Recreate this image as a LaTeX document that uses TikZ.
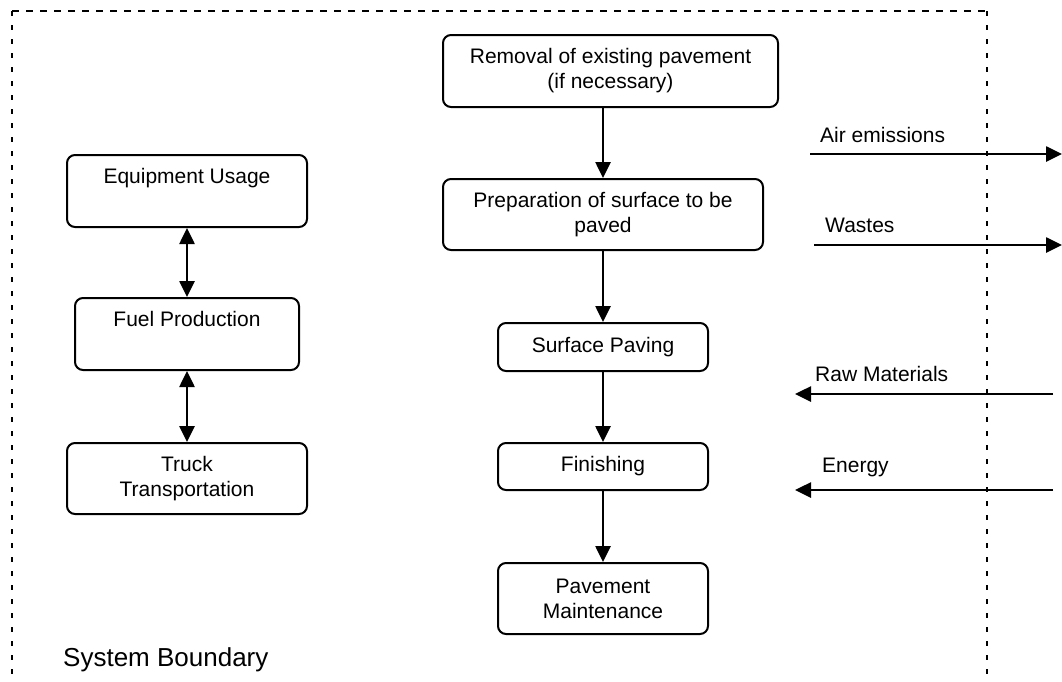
\documentclass[tikz,border=0pt]{standalone}
\usepackage{fontspec}
\setmainfont{Liberation Sans}
\usetikzlibrary{arrows.meta}
\tikzset{
  box/.style={draw, line width=2pt, rounded corners=8pt, inner sep=0pt, align=center,
    font=\fontsize{21}{25}\selectfont},
  tip/.style={},
  flow/.style={line width=2.6pt, -{Triangle[length=16pt,width=15pt]}},
  both/.style={line width=2.6pt, {Triangle[length=16pt,width=15pt]}-{Triangle[length=16pt,width=15pt]}},
  lbl/.style={font=\fontsize{21}{25}\selectfont, inner sep=0pt, anchor=west},
  hbound/.style={line width=2pt, dash pattern=on 7pt off 7pt},
  vbound/.style={line width=2pt, dash pattern=on 5pt off 9pt}
}
\begin{document}
\begin{tikzpicture}[x=1pt,y=-1pt]
\useasboundingbox (0,0) rectangle (1062,681);
% system boundary
\coordinate (bl) at (12,681);
\coordinate (tl) at (12,11);
\coordinate (tr) at (987,11);
\coordinate (br) at (987,681);
\draw[hbound] (tl) -- (tr);
\draw[vbound] (tl) -- (bl);
\draw[vbound] (tr) -- (br);
\node[lbl, font=\fontsize{26}{30}\selectfont] (sb) at (63,660) {System Boundary};

% left column
\node[box, minimum width=240pt, minimum height=72pt] (eu) at (187,191) {Equipment Usage\\\phantom{Ag}};
\node[box, minimum width=224pt, minimum height=72pt] (fp) at (187,334) {Fuel Production\\\phantom{Ag}};
\node[box, minimum width=240pt, minimum height=71pt] (tt) at (187,478.5) {Truck\\Transportation};
\draw[both] (eu) -- (fp);
\draw[both] (fp) -- (tt);

% central column
\node[box, minimum width=335pt, minimum height=72pt] (rm) at (610.5,71) {Removal of existing pavement\\(if necessary)};
\node[box, minimum width=320pt, minimum height=71pt] (ps) at (603,214.5) {Preparation of surface to be\\paved};
\node[box, minimum width=210pt, minimum height=48pt] (sp) at (603,347) {Surface Paving};
\node[box, minimum width=210pt, minimum height=47pt] (fi) at (603,466.5) {Finishing};
\node[box, minimum width=210pt, minimum height=71pt] (pm) at (603,598.5) {Pavement\\Maintenance};
\draw[flow] (ps.north |- rm.south) -- (ps.north);
\draw[flow] (ps) -- (sp);
\draw[flow] (sp) -- (fi);
\draw[flow] (fi) -- (pm);

% flows across the boundary
\coordinate (ae1) at (810,154);
\coordinate (ae2) at (1062,154);
\coordinate (w1) at (814,245);
\coordinate (w2) at (1062,245);
\coordinate (rw1) at (1053,394);
\coordinate (rw2) at (795,394);
\coordinate (en1) at (1053,490);
\coordinate (en2) at (795,490);
\draw[flow] (ae1) -- (ae2);
\draw[flow] (w1) -- (w2);
\draw[flow] (rw1) -- (rw2);
\draw[flow] (en1) -- (en2);
\node[lbl] (lae) at (820,135) {Air emissions};
\node[lbl] (lw) at (825,225) {Wastes};
\node[lbl] (lrw) at (815,374) {Raw Materials};
\node[lbl] (len) at (822,467) {Energy};
\end{tikzpicture}
\end{document}
